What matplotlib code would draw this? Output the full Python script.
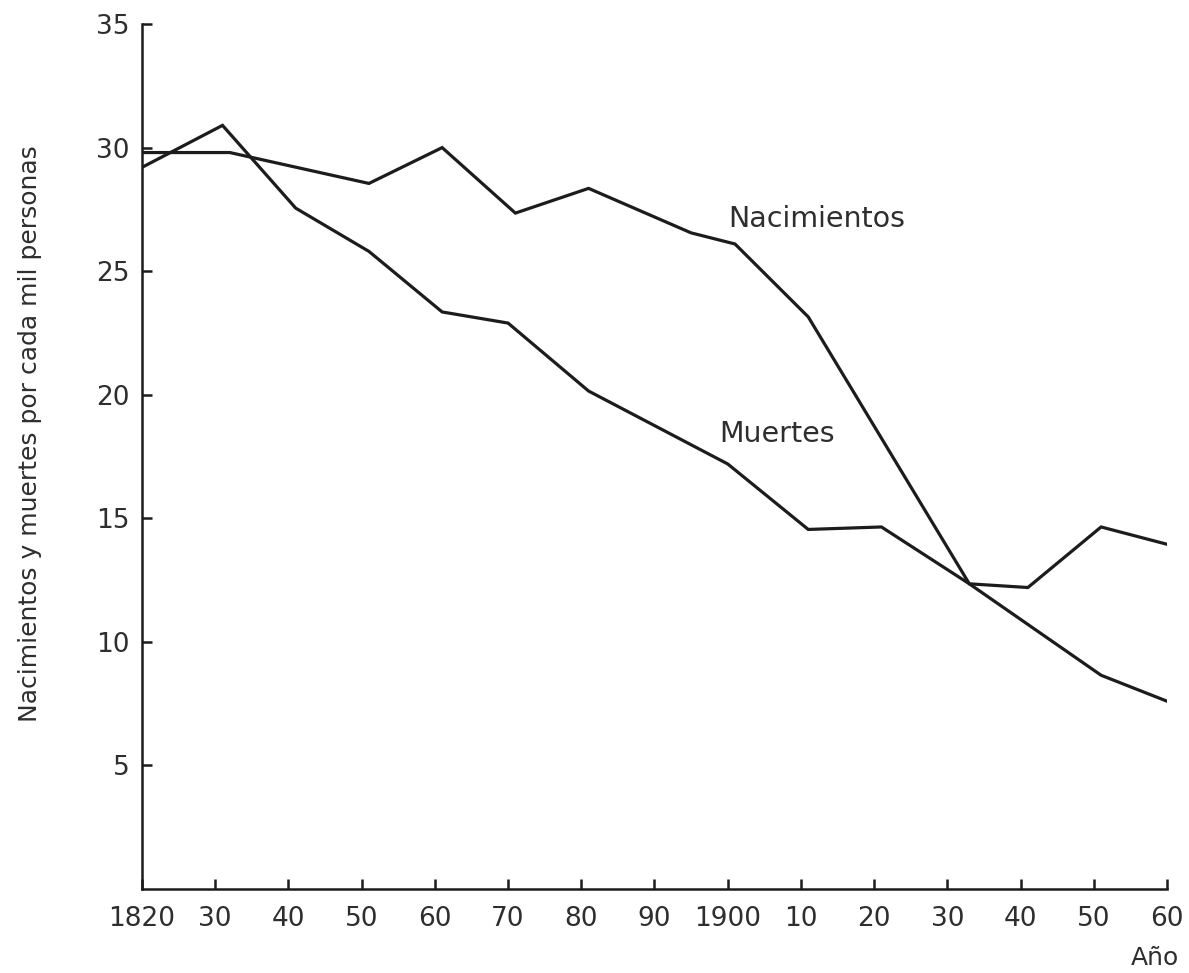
import matplotlib
matplotlib.use("Agg")
import matplotlib.pyplot as plt

# Data
births_years = [1820, 1832, 1851, 1861, 1871, 1881, 1895, 1901, 1911, 1933, 1941, 1951, 1960]
births_vals  = [29.8, 29.8, 28.55, 30.0, 27.35, 28.35, 26.55, 26.1, 23.15, 12.35, 12.2, 14.65, 13.95]

deaths_years = [1820, 1831, 1841, 1851, 1861, 1870, 1881, 1900, 1911, 1921, 1933, 1951, 1960]
deaths_vals  = [29.2, 30.9, 27.55, 25.8, 23.35, 22.9, 20.15, 17.2, 14.55, 14.65, 12.35, 8.65, 7.6]

xtick_pos = [1820, 1830, 1840, 1850, 1860, 1870, 1880, 1890, 1900, 1910, 1920, 1930, 1940, 1950, 1960]
xtick_lab = ["1820", "30", "40", "50", "60", "70", "80", "90", "1900", "10", "20", "30", "40", "50", "60"]
ytick_pos = [5, 10, 15, 20, 25, 30, 35]

INK = "#1c1c1c"
TXT = "#2e2e2e"
plt.rcParams['font.family'] = ['DejaVu Sans']

fig = plt.figure(figsize=(11.89, 9.73), dpi=100)
ax = fig.add_axes([0.1194, 0.0863, 0.8621, 0.889])

ax.plot(births_years, births_vals, color=INK, lw=2.3, solid_joinstyle='miter')
ax.plot(deaths_years, deaths_vals, color=INK, lw=2.3, solid_joinstyle='miter')

ax.set_xlim(1820, 1960)
ax.set_ylim(0, 35)
ax.set_xticks(xtick_pos)
ax.set_xticklabels(xtick_lab)
ax.set_yticks(ytick_pos)
ax.set_yticklabels([str(v) for v in ytick_pos])

for s in ['top', 'right']:
    ax.spines[s].set_visible(False)
for s in ['left', 'bottom']:
    ax.spines[s].set_color(INK)
    ax.spines[s].set_linewidth(1.8)

ax.tick_params(axis='both', direction='in', length=7.5, width=1.8, color=INK,
               labelsize=19, labelcolor=TXT)
ax.tick_params(axis='x', pad=12)
ax.tick_params(axis='y', pad=9)

ax.text(1912.2, 27.1, "Nacimientos", fontsize=20.5, color=TXT, ha='center', va='center')
ax.text(1906.7, 18.4, "Muertes", fontsize=20.5, color=TXT, ha='center', va='center')

fig.text(1155/1189, 1 - 958/973, "Año", fontsize=18, color=TXT, ha='center', va='center')
fig.text(30/1189, 1 - 434/973, "Nacimientos y muertes por cada mil personas", fontsize=18,
         color=TXT, rotation=90, ha='center', va='center')

fig.savefig("out.png", dpi=100, facecolor='white')
